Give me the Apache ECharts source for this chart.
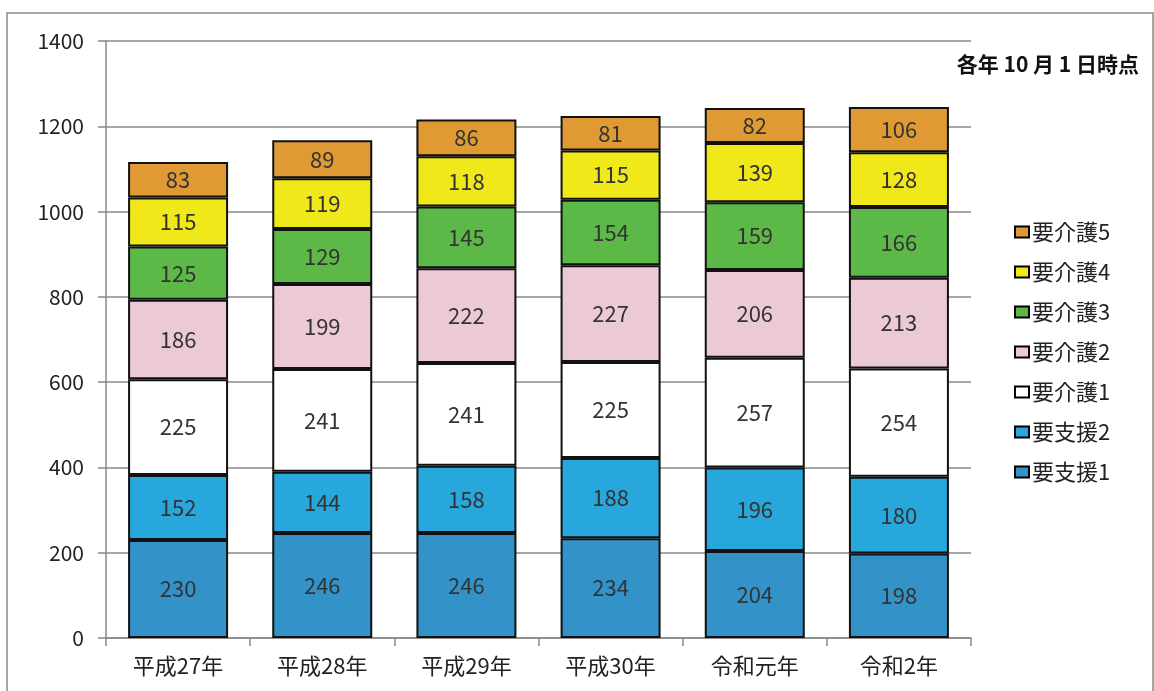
<!DOCTYPE html>
<html><head><meta charset="utf-8">
<script src="https://cdn.jsdelivr.net/npm/echarts@6/dist/echarts.min.js"></script>
<style>html,body{margin:0;padding:0;background:#fff}#c{width:1154px;height:691px}</style>
</head><body><div id="c"></div>
<script>
const categories = ['平成27年','平成28年','平成29年','平成30年','令和元年','令和2年'];
const seriesNames = ['要支援1','要支援2','要介護1','要介護2','要介護3','要介護4','要介護5'];
const shien1 = [230,246,246,234,204,198];
const shien2 = [152,144,158,188,196,180];
const kaigo1 = [225,241,241,225,257,254];
const kaigo2 = [186,199,222,227,206,213];
const kaigo3 = [125,129,145,154,159,166];
const kaigo4 = [115,119,118,115,139,128];
const kaigo5 = [83,89,86,81,82,106];
const yTicks = [0,200,400,600,800,1000,1200,1400];
const seriesData = [shien1,shien2,kaigo1,kaigo2,kaigo3,kaigo4,kaigo5];
const colors = ['#3393c9','#27a7db','#ffffff','#ecc9d7','#5cb947','#f1e81a','#e09a33'];
const FONT = '"Noto Sans CJK JP", sans-serif';

const chart = echarts.init(document.getElementById('c'));
chart.setOption({
  animation:false,
  textStyle:{fontFamily:FONT},
  grid:{left:106,right:183,top:41,bottom:53},
  legend:{
    orient:'vertical', left:1009, top:216,
    data:seriesNames.slice().reverse(),
    itemWidth:14, itemHeight:11, itemGap:18,
    icon:'rect',
    itemStyle:{borderColor:'#000',borderWidth:2},
    textStyle:{fontSize:22,color:'#222',fontFamily:FONT,padding:[0,0,0,-2]}
  },
  graphic:[
    {type:'rect',shape:{x:7,y:13,width:1146,height:700},style:{fill:'none',stroke:'#888',lineWidth:1.5},silent:true},
    {type:'text',right:15,top:54,style:{text:'各年 10 月 1 日時点',fontSize:21,fontWeight:'bold',fill:'#111',fontFamily:FONT}}
  ],
  xAxis:{
    type:'category', data:categories, boundaryGap:true,
    axisLine:{lineStyle:{color:'#888',width:1.5}},
    axisTick:{show:true,length:8,lineStyle:{color:'#888',width:1.5}},
    axisLabel:{fontSize:22,color:'#222',margin:17,fontFamily:FONT}
  },
  yAxis:{
    type:'value', min:yTicks[0], max:yTicks[yTicks.length-1], interval:200,
    axisLine:{show:true,lineStyle:{color:'#888',width:1.5}},
    axisTick:{show:true,length:8,lineStyle:{color:'#888',width:1.5}},
    splitLine:{lineStyle:{color:'#888',width:1.5}},
    axisLabel:{fontSize:21,color:'#222',margin:22,fontFamily:FONT,formatter:v=>String(v)}
  },
  series:seriesNames.map((n,i)=>({
    name:n, type:'bar', stack:'total', data:seriesData[i], barWidth:100,
    itemStyle:{color:colors[i],borderColor:'#111',borderWidth:2},
    label:{show:true,position:'inside',fontSize:22,color:'#333',fontFamily:FONT}
  }))
});
</script></body></html>
